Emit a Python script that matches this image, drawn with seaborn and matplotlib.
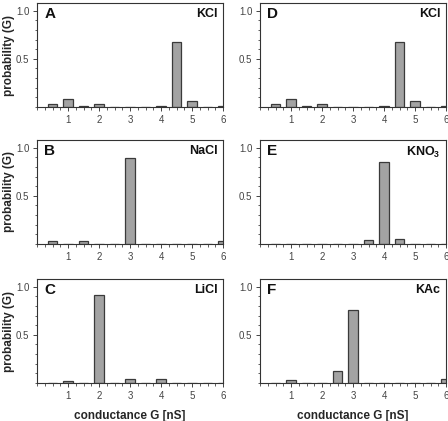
import numpy as np
import pandas as pd
import matplotlib
matplotlib.use("Agg")
import matplotlib.pyplot as plt
import seaborn as sns
from matplotlib.ticker import MultipleLocator

sns.set_theme(style="ticks")
plt.rcParams["font.family"] = ["Liberation Sans", "DejaVu Sans"]
plt.rcParams["mathtext.fontset"] = "custom"
plt.rcParams["mathtext.bf"] = "Liberation Sans:bold"
plt.rcParams["mathtext.rm"] = "Liberation Sans"

# conductance bins [nS]
bins = [0.5, 1.0, 1.5, 2.0, 2.5, 3.0, 3.5, 4.0, 4.5, 5.0, 5.5, 6.0]

prob_A = [0.035, 0.08, 0.014, 0.035, 0, 0, 0, 0.01, 0.67, 0.06, 0, 0.014]
prob_B = [0.035, 0, 0.035, 0, 0, 0.89, 0, 0, 0, 0, 0, 0.035]
prob_C = [0, 0.017, 0, 0.91, 0, 0.04, 0, 0.04, 0, 0, 0, 0]
prob_D = [0.035, 0.08, 0.01, 0.035, 0, 0, 0, 0.01, 0.67, 0.06, 0, 0.01]
prob_E = [0, 0, 0, 0, 0, 0, 0.04, 0.85, 0.055, 0, 0, 0]
prob_F = [0, 0.035, 0, 0, 0.125, 0.757, 0, 0, 0, 0, 0, 0.045]

letters = ["A", "B", "C", "D", "E", "F"]
salts = ["KCl", "NaCl", "LiCl", "KCl", r"$\mathbf{KNO_3}$", "KAc"]
panels = [prob_A, prob_B, prob_C, prob_D, prob_E, prob_F]

fig = plt.figure(figsize=(4.48, 4.21), dpi=100)

lefts = [37 / 448, 260 / 448]
bottoms = [1 - 107 / 421, 1 - 244 / 421, 1 - 383 / 421]
w = 186 / 448
h = 104 / 421

for i, (letter, salt, vals) in enumerate(zip(letters, salts, panels)):
    col, row = i // 3, i % 3
    ax = fig.add_axes([lefts[col], bottoms[row], w, h])
    df = pd.DataFrame({"G": bins, "p": vals})
    sns.barplot(data=df, x="G", y="p", native_scale=True, width=0.64,
                color="#a3a3a3", saturation=1, edgecolor="#3a3a3a",
                linewidth=0.9, ax=ax)
    ax.set_xlim(0, 6)
    ax.set_ylim(0, 1.08)
    ax.set_xticks([1, 2, 3, 4, 5, 6])
    ax.set_yticks([0.5, 1.0])
    ax.set_yticklabels(["0.5", "1.0"])
    ax.xaxis.set_minor_locator(MultipleLocator(0.25))
    ax.yaxis.set_minor_locator(MultipleLocator(0.1))
    ax.tick_params(which="major", direction="out", length=3, width=0.7,
                   labelsize=7, labelcolor="#444444", color="#444444", pad=2.5)
    ax.tick_params(which="minor", direction="out", length=1.8, width=0.6,
                   color="#444444")
    for s in ax.spines.values():
        s.set_visible(True)
        s.set_color("#333333")
        s.set_linewidth(0.8)
    ax.text(0.04, 0.96, letter, transform=ax.transAxes, ha="left", va="top",
            fontsize=11, fontweight="bold", color="#111111")
    ax.text(0.97, 0.95, salt, transform=ax.transAxes, ha="right", va="top",
            fontsize=9, fontweight="bold", color="#111111")
    if col == 0:
        ax.set_ylabel("probability (G)", fontsize=8.5, fontweight="bold")
        ax.yaxis.set_label_coords(-0.12, 0.5)
    else:
        ax.set_ylabel("")
    if row == 2:
        ax.set_xlabel("conductance G [nS]", fontsize=8.5, fontweight="bold")
        ax.xaxis.set_label_coords(0.5, -0.255)
    else:
        ax.set_xlabel("")

fig.savefig("out.png", dpi=100)
